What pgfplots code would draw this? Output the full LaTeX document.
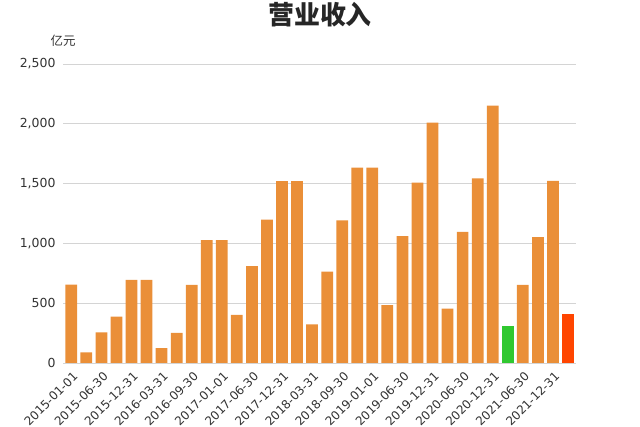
\documentclass[border=0pt]{standalone}
\usepackage{fontspec}
\setmainfont{DejaVu Sans}
\newfontfamily\cjk{Noto Sans CJK SC}
\usepackage{pgfplots}
\pgfplotsset{compat=1.18}

\definecolor{barorange}{RGB}{234,143,56}
\definecolor{bargreen}{RGB}{48,200,48}
\definecolor{barred}{RGB}{255,69,0}
\definecolor{gridgray}{RGB}{212,212,212}
\definecolor{textgray}{RGB}{51,51,51}

\begin{document}
\begin{tikzpicture}
\useasboundingbox (0,0) rectangle (640bp,427bp);
\begin{axis}[
    at={(63bp,64bp)}, anchor=south west,
    scale only axis, width=512.5bp, height=299bp,
    xmin=-0.55, xmax=33.5,
    ymin=0, ymax=2500,
    ytick={0,500,...,2500},
    xtick={0,2,...,32},
    xticklabels={2015-01-01,2015-06-30,2015-12-31,2016-03-31,2016-09-30,2017-01-01,2017-06-30,2017-12-31,2018-03-31,2018-09-30,2019-01-01,2019-06-30,2019-12-31,2020-06-30,2020-12-31,2021-06-30,2021-12-31},
    major tick length=0pt,
    axis line style={draw=none},
    ymajorgrids, grid style={gridgray, line width=0.8bp},
    /pgf/number format/assume math mode=true,
    /pgf/number format/1000 sep={,},
    yticklabel style={font=\fontsize{12.5}{15}\selectfont, text=textgray, xshift=-4bp},
    xticklabel style={font=\fontsize{12}{14}\selectfont, text=textgray, xshift=1bp, yshift=-5bp, rotate=45, anchor=north east, inner sep=2bp},
    ybar, bar width=0.78,
]
\addplot[bar shift=0pt, fill=barorange, draw=none] coordinates {
    (0,656) (1,89) (2,256) (3,388) (4,695) (5,695) (6,125) (7,251)
    (8,653) (9,1027) (10,1027) (11,402) (12,809) (13,1198) (14,1521) (15,1521)
    (16,322) (17,763) (18,1193) (19,1633) (20,1633) (21,483) (22,1061) (23,1508)
    (24,2010) (25,455) (26,1097) (27,1544) (28,2152) (30,653) (31,1053) (32,1522)
};
\addplot[bar shift=0pt, fill=bargreen, draw=none] coordinates {(29,310)};
\addplot[bar shift=0pt, fill=barred, draw=none] coordinates {(33,410)};
\end{axis}
\node[font=\cjk\bfseries\fontsize{26}{30}\selectfont, text=black!85] at (320bp,412bp) {营业收入};
\node[font=\cjk\fontsize{12.5}{15}\selectfont, text=textgray] at (63bp,386bp) {亿元};
\end{tikzpicture}
\end{document}
